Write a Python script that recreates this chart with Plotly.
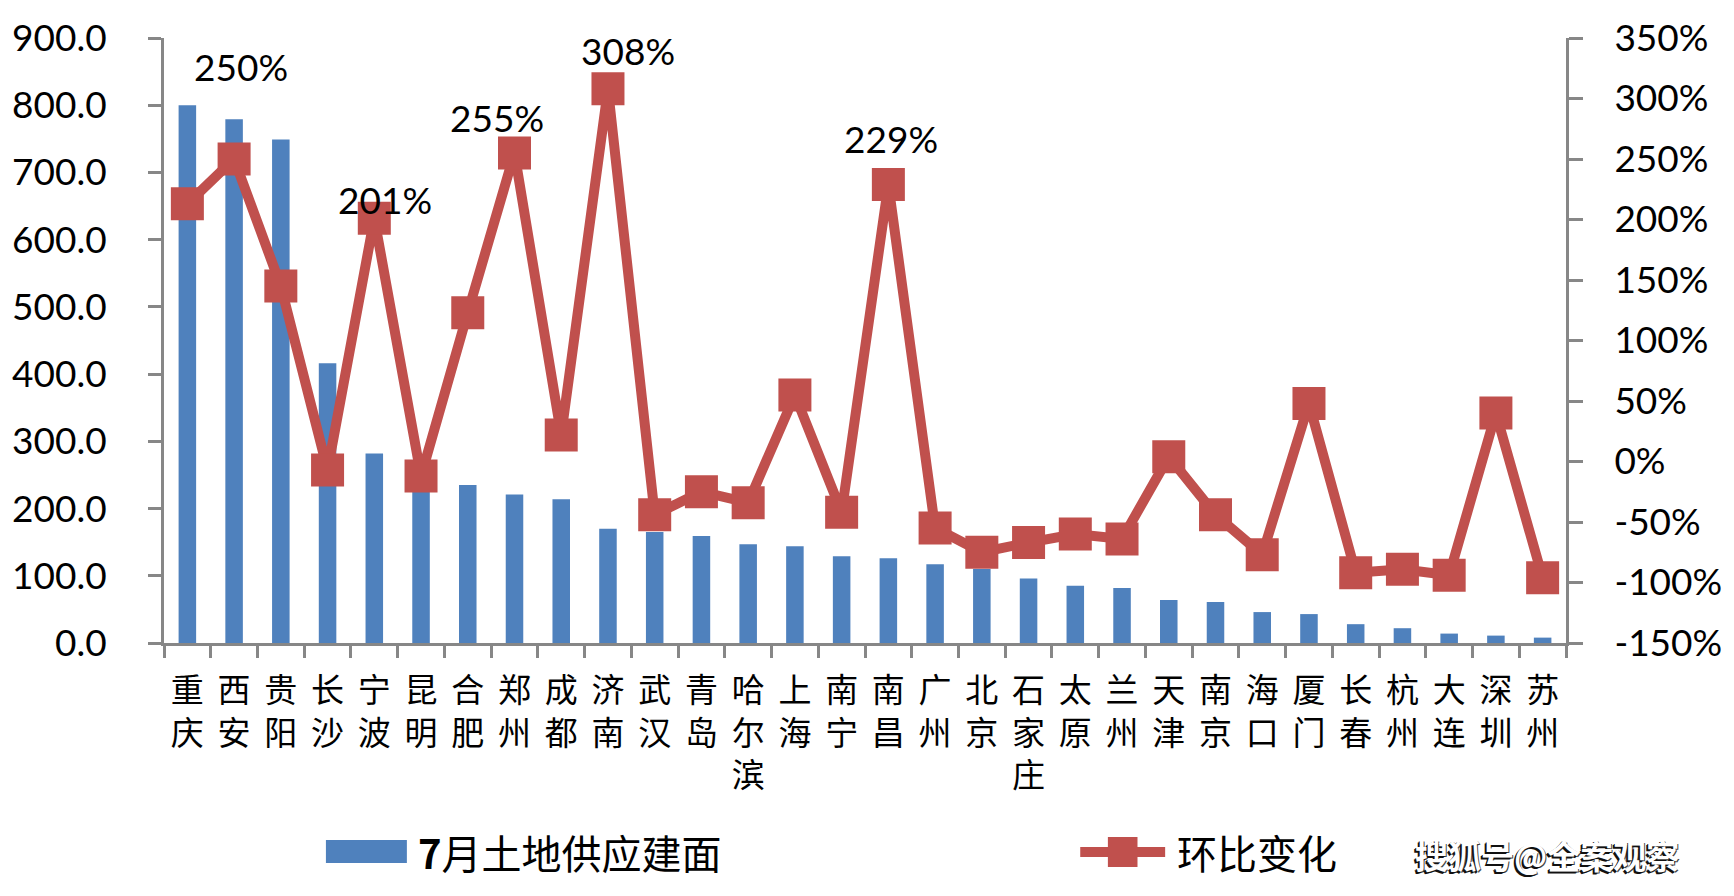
import plotly.graph_objects as go

# ---------------- data ----------------
cities = ["重庆", "西安", "贵阳", "长沙", "宁波", "昆明", "合肥", "郑州", "成都", "济南",
          "武汉", "青岛", "哈尔滨", "上海", "南宁", "南昌", "广州", "北京", "石家庄", "太原",
          "兰州", "天津", "南京", "海口", "厦门", "长春", "杭州", "大连", "深圳", "苏州"]

supply_area = [800, 779, 749, 416, 282, 255, 235, 221, 214, 170,
               165, 159, 147, 144, 129, 126, 117, 110, 96, 85,
               82, 64, 61, 46, 43, 28, 22, 14, 11, 8]

mom_change = [213, 250, 145, -7, 201, -12, 123, 255, 22, 308,
              -44, -25, -34, 55, -42, 229, -55, -75, -67, -60,
              -64, 4, -44, -77, 48, -92, -89, -94, 40, -96]

labeled_cities = ["西安", "宁波", "郑州", "济南", "南昌"]

left_ticks = [0, 100, 200, 300, 400, 500, 600, 700, 800, 900]
right_ticks = [-150, -100, -50, 0, 50, 100, 150, 200, 250, 300, 350]

bar_name = "7月土地供应建面"
line_name = "环比变化"
watermark = "搜狐号@全案观察"

# ---------------- style ----------------
W, H = 1734, 896
ML, MR, MT, MB = 152, 162, 38, 253
PW, PH = W - ML - MR, H - MT - MB
BLUE = "#4F81BD"
RED = "#C0504D"
AXIS = "#878787"
NUM_FONT = "Lato"
CJK_FONT = "Noto Sans CJK SC"

# label offsets (px) for the manually placed data labels: (dx, dy-up)
label_offsets = {"西安": (7, 93), "宁波": (11, 19), "郑州": (-18, 35),
                 "济南": (20, 38), "南昌": (3, 46)}


def px_x(px):
    return (px - ML) / PW


def px_y(py):
    return (H - MB - py) / PH


fig = go.Figure()
fig.add_trace(go.Bar(x=cities, y=supply_area, name=bar_name, marker_color=BLUE,
                     marker_line_width=0, showlegend=False, yaxis="y"))
fig.add_trace(go.Scatter(x=cities, y=mom_change, name=line_name, mode="lines+markers",
                         line=dict(color=RED, width=10),
                         marker=dict(symbol="square", size=33, color=RED, line=dict(width=0)),
                         showlegend=False, yaxis="y2"))

annotations = []
# data labels
for c in labeled_cities:
    i = cities.index(c)
    dx, dy = label_offsets[c]
    annotations.append(dict(x=c, y=mom_change[i], xref="x", yref="y2",
                            text=f"{mom_change[i]}%", showarrow=False,
                            xshift=dx, yshift=dy, xanchor="center", yanchor="middle",
                            font=dict(family=NUM_FONT, size=37, color="black")))
# legend texts
annotations.append(dict(x=px_x(407), y=px_y(852), xref="paper", yref="paper",
                        text="<b>7</b>月土地供应建面", showarrow=False,
                        xanchor="left", yanchor="middle",
                        font=dict(family=CJK_FONT, size=40, color="black")))
annotations.append(dict(x=px_x(1176), y=px_y(852), xref="paper", yref="paper",
                        text=line_name, showarrow=False,
                        xanchor="left", yanchor="middle",
                        font=dict(family=CJK_FONT, size=40, color="black")))
# watermark (white text with dark shadow)
annotations.append(dict(x=px_x(1417), y=px_y(855), xref="paper", yref="paper",
                        text=watermark, showarrow=False,
                        xanchor="left", yanchor="middle",
                        font=dict(family=CJK_FONT, size=33, color="white", weight=700,
                                  shadow="-2px 2px 0px #111, -1px 1px 0px #111, 1px 1px 0px #444")))

shapes = [
    dict(type="rect", xref="paper", yref="paper", x0=px_x(316), x1=px_x(398),
         y0=px_y(863), y1=px_y(840), fillcolor=BLUE, line=dict(width=0)),
    dict(type="line", xref="paper", yref="paper", x0=px_x(1080), x1=px_x(1166),
         y0=px_y(852), y1=px_y(852), line=dict(color=RED, width=10)),
    dict(type="rect", xref="paper", yref="paper", x0=px_x(1108), x1=px_x(1138),
         y0=px_y(867), y1=px_y(837), fillcolor=RED, line=dict(width=0)),
]

fig.update_layout(
    width=W, height=H,
    margin=dict(l=ML, r=MR, t=MT, b=MB, pad=0),
    paper_bgcolor="white", plot_bgcolor="white",
    bargap=0.625,
    showlegend=False,
    annotations=annotations,
    shapes=shapes,
    xaxis=dict(type="category", showline=True, linecolor=AXIS, linewidth=3,
               ticks="outside", tickson="boundaries", ticklen=12, tickwidth=3,
               tickcolor=AXIS, showgrid=False, zeroline=False,
               tickmode="array", tickvals=cities,
               ticktext=["<br>".join(c) for c in cities],
               tickangle=0, ticklabelstandoff=16,
               tickfont=dict(family=CJK_FONT, size=33, color="black"),
               range=[-0.5, len(cities) - 0.5]),
    yaxis=dict(range=[0, 900], tickvals=left_ticks,
               ticktext=[f"{v:.1f}" for v in left_ticks],
               showline=True, linecolor=AXIS, linewidth=3, ticks="outside",
               ticklen=13, tickwidth=3, tickcolor=AXIS, ticklabelstandoff=34,
               showgrid=False, zeroline=False,
               tickfont=dict(family=NUM_FONT, size=37, color="black")),
    yaxis2=dict(range=[-150, 350], tickvals=right_ticks,
                ticktext=[f"{v}%" for v in right_ticks],
                overlaying="y", side="right", anchor="x",
                showline=True, linecolor=AXIS, linewidth=3, ticks="outside",
                ticklen=14, tickwidth=3, tickcolor=AXIS, ticklabelstandoff=24,
                showgrid=False, zeroline=False,
                tickfont=dict(family=NUM_FONT, size=37, color="black")),
)

fig.write_html("out.html")
